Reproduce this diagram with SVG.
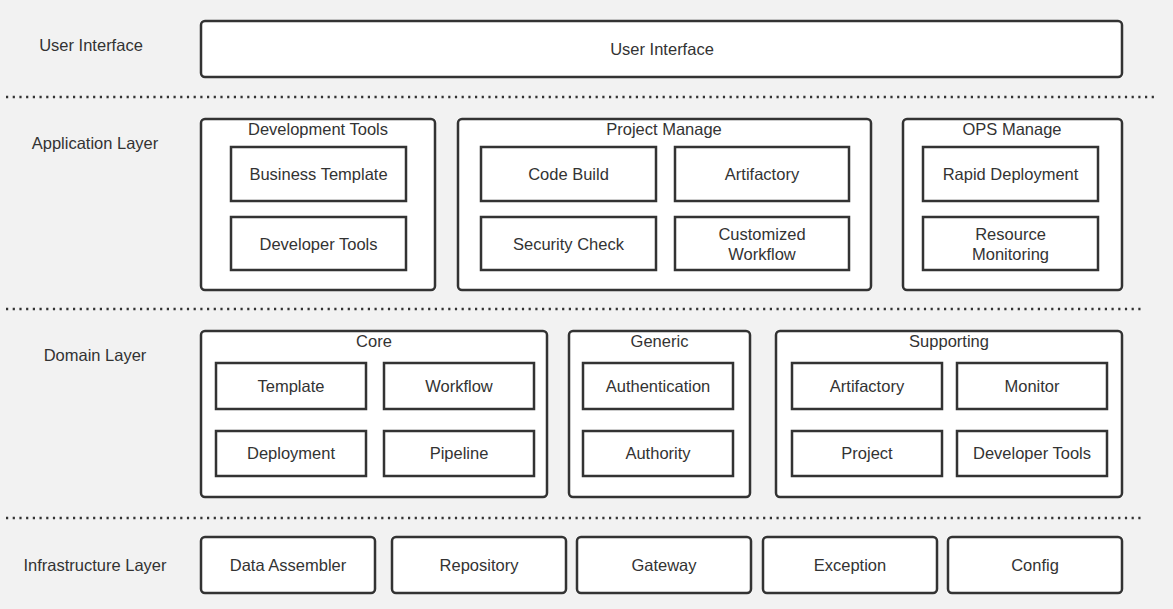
<svg xmlns="http://www.w3.org/2000/svg" width="1173" height="609" viewBox="0 0 1173 609">
<style>
text{font-family:"Liberation Sans",Arial,sans-serif;font-size:16.5px;fill:#333;text-anchor:middle;dominant-baseline:central}
.outer{fill:#fff;stroke:#333;stroke-width:2.5}
.inner{fill:#fff;stroke:#333;stroke-width:2.5}
.dot{stroke:#333;stroke-width:2.5;stroke-dasharray:2.2 4.5;fill:none}
</style>
<rect width="1173" height="609" fill="#f2f2f2"/>
<g id="separators">
<line class="dot" x1="6" y1="97" x2="1156" y2="97"/>
<line class="dot" x1="6" y1="309" x2="1144" y2="309"/>
<line class="dot" x1="6" y1="518" x2="1144" y2="518"/>
</g>
<g id="layer-labels">
<text x="91" y="45">User Interface</text>
<text x="95" y="143">Application Layer</text>
<text x="95" y="355">Domain Layer</text>
<text x="95" y="565">Infrastructure Layer</text>
</g>
<g id="ui"><rect class="outer" x="201" y="21" width="921" height="56" rx="4"/><text x="662" y="49">User Interface</text></g>
<g id="dev-tools-group"><rect class="outer" x="201" y="119" width="234" height="171" rx="4"/><text x="318" y="129">Development Tools</text></g>
<g id="business-template"><rect class="inner" x="231" y="147" width="175" height="54"/><text x="318.5" y="174">Business Template</text></g>
<g id="developer-tools-app"><rect class="inner" x="231" y="217" width="175" height="53"/><text x="318.5" y="244">Developer Tools</text></g>
<g id="project-manage"><rect class="outer" x="458" y="119" width="413" height="171" rx="4"/><text x="664" y="129">Project Manage</text></g>
<g id="code-build"><rect class="inner" x="481" y="147" width="175" height="54"/><text x="568.5" y="174">Code Build</text></g>
<g id="artifactory-app"><rect class="inner" x="675" y="147" width="174" height="54"/><text x="762" y="174">Artifactory</text></g>
<g id="security-check"><rect class="inner" x="481" y="217" width="175" height="53"/><text x="568.5" y="244">Security Check</text></g>
<g id="customized-workflow"><rect class="inner" x="675" y="217" width="174" height="53"/><text x="762" y="234">Customized</text><text x="762" y="254">Workflow</text></g>
<g id="ops-manage"><rect class="outer" x="903" y="119" width="219" height="171" rx="4"/><text x="1012" y="129">OPS Manage</text></g>
<g id="rapid-deployment"><rect class="inner" x="923" y="147" width="175" height="54"/><text x="1010.5" y="174">Rapid Deployment</text></g>
<g id="resource-monitoring"><rect class="inner" x="923" y="217" width="175" height="53"/><text x="1010.5" y="234">Resource</text><text x="1010.5" y="254">Monitoring</text></g>
<g id="core"><rect class="outer" x="201" y="331" width="346" height="166" rx="4"/><text x="374" y="341">Core</text></g>
<g id="template"><rect class="inner" x="216" y="363" width="150" height="46"/><text x="291" y="386">Template</text></g>
<g id="workflow"><rect class="inner" x="384" y="363" width="150" height="46"/><text x="459" y="386">Workflow</text></g>
<g id="deployment"><rect class="inner" x="216" y="431" width="150" height="45"/><text x="291" y="453">Deployment</text></g>
<g id="pipeline"><rect class="inner" x="384" y="431" width="150" height="45"/><text x="459" y="453">Pipeline</text></g>
<g id="generic"><rect class="outer" x="569" y="331" width="181" height="166" rx="4"/><text x="659.5" y="341">Generic</text></g>
<g id="authentication"><rect class="inner" x="583" y="363" width="150" height="46"/><text x="658" y="386">Authentication</text></g>
<g id="authority"><rect class="inner" x="583" y="431" width="150" height="45"/><text x="658" y="453">Authority</text></g>
<g id="supporting"><rect class="outer" x="776" y="331" width="346" height="166" rx="4"/><text x="949" y="341">Supporting</text></g>
<g id="artifactory-dom"><rect class="inner" x="792" y="363" width="150" height="46"/><text x="867" y="386">Artifactory</text></g>
<g id="monitor"><rect class="inner" x="957" y="363" width="150" height="46"/><text x="1032" y="386">Monitor</text></g>
<g id="project"><rect class="inner" x="792" y="431" width="150" height="45"/><text x="867" y="453">Project</text></g>
<g id="developer-tools-dom"><rect class="inner" x="957" y="431" width="150" height="45"/><text x="1032" y="453">Developer Tools</text></g>
<g id="data-assembler"><rect class="outer" x="201" y="537" width="174" height="56" rx="4"/><text x="288" y="565">Data Assembler</text></g>
<g id="repository"><rect class="outer" x="392" y="537" width="174" height="56" rx="4"/><text x="479" y="565">Repository</text></g>
<g id="gateway"><rect class="outer" x="577" y="537" width="174" height="56" rx="4"/><text x="664" y="565">Gateway</text></g>
<g id="exception"><rect class="outer" x="763" y="537" width="174" height="56" rx="4"/><text x="850" y="565">Exception</text></g>
<g id="config"><rect class="outer" x="948" y="537" width="174" height="56" rx="4"/><text x="1035" y="565">Config</text></g>
</svg>
